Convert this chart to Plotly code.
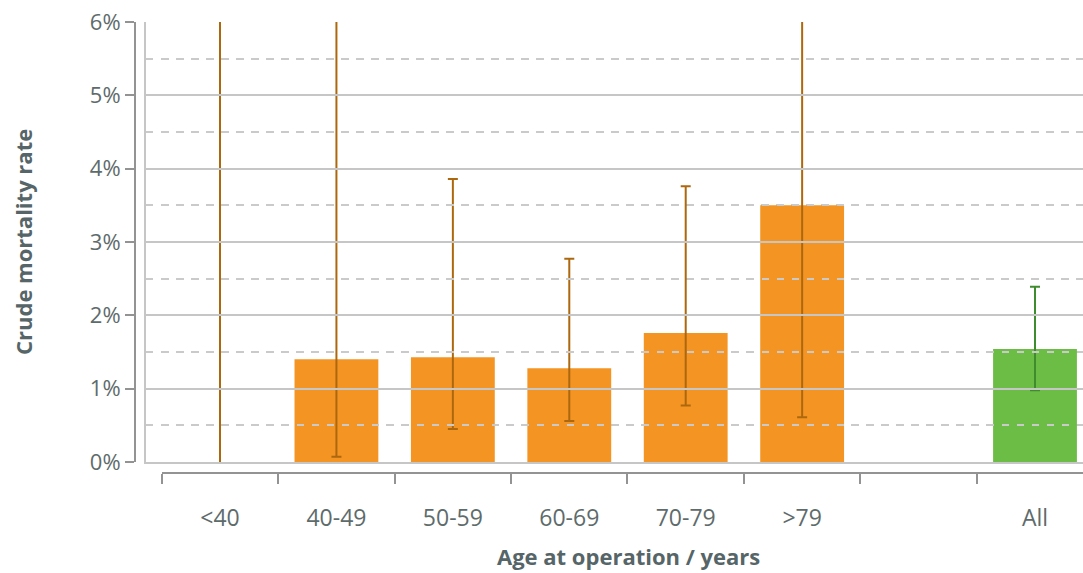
import plotly.graph_objects as go

# Crude mortality by age band at operation (%), with 95% CI bounds
categories = ["<40", "40-49", "50-59", "60-69", "70-79", ">79", "", "All"]
rates = [0.0, 1.40, 1.43, 1.28, 1.76, 3.50, None, 1.54]
ci_upper = [9.5, 8.0, 3.86, 2.77, 3.76, 7.5, None, 2.39]
ci_lower = [0.0, 0.07, 0.45, 0.56, 0.77, 0.61, None, 0.98]
boundaries = [-0.5, 0.5, 1.5, 2.5, 3.5, 4.5, 5.5, 6.5]
y_ticks = [0, 1, 2, 3, 4, 5, 6]

ORANGE = "#F39423"
ORANGE_ERR = "#AD680F"
GREEN = "#6CBD45"
GREEN_ERR = "#3F8C2F"
GRID = "#C6C6C6"
AXIS = "#939393"
TEXT = "#5E6B6B"
TITLE = "#566567"
FONT = "Open Sans"

W, H = 1083, 573
ML, MT, MB = 135, 22, 100
plot_w = W - ML
plot_h = H - MT - MB

step = (1035 - 220) / 7.0
x_lo = -(220 - 146) / step
x_hi = 7 + (1083 - 1035) / step
x_dom = (146 - ML) / plot_w
x2_dom = (220 - step / 2 - ML) / plot_w
y_dom = (473 - 462) / plot_h

pos = list(range(len(categories)))


def add_bars(fig, idx, color, err_color, cap):
    plus = [ci_upper[i] - rates[i] for i in idx]
    minus = [rates[i] - ci_lower[i] for i in idx]
    fig.add_trace(go.Bar(
        x=[pos[i] for i in idx], y=[rates[i] for i in idx],
        marker=dict(color=color, line=dict(width=0)), width=0.72,
        error_y=dict(type="data", symmetric=False, array=plus, arrayminus=minus,
                     color=err_color, thickness=2, width=cap),
        showlegend=False, hoverinfo="skip",
    ))


fig = go.Figure()
# youngest band: no deaths, interval runs from zero (no lower cap)
add_bars(fig, [0], ORANGE, ORANGE_ERR, 0)
add_bars(fig, [1, 2, 3, 4, 5], ORANGE, ORANGE_ERR, 5)
add_bars(fig, [7], GREEN, GREEN_ERR, 5)

# empty carriers so the offset category axis and value axis get drawn
fig.add_trace(go.Scatter(x=[None], y=[None], xaxis="x2", yaxis="y",
                         showlegend=False, hoverinfo="skip"))
fig.add_trace(go.Scatter(x=[None], y=[None], xaxis="x", yaxis="y2",
                         showlegend=False, hoverinfo="skip"))

fig.update_layout(
    width=W, height=H,
    margin=dict(l=ML, r=0, t=MT, b=MB, pad=0),
    paper_bgcolor="white", plot_bgcolor="rgba(0,0,0,0)",
    font=dict(family=FONT, color=TEXT),
    xaxis=dict(
        domain=[x_dom, 1], range=[x_lo, x_hi], anchor="y",
        showgrid=False, zeroline=False, showticklabels=False, ticks="",
        showline=True, linecolor=GRID, linewidth=2,
    ),
    yaxis=dict(
        domain=[y_dom, 1], range=[0, 6], anchor="x",
        tickvals=y_ticks, showticklabels=False, ticks="",
        showgrid=True, gridcolor=GRID, gridwidth=2,
        zeroline=False,
        showline=True, linecolor=GRID, linewidth=2,
        minor=dict(tickmode="linear", tick0=0, dtick=0.5, showgrid=True,
                   gridcolor="#CACACA", gridwidth=2, griddash="7px,8px",
                   ticks=""),
    ),
    xaxis2=dict(
        domain=[x2_dom, 1], range=[-0.5, x_hi], anchor="free", position=0,
        tickmode="array", tickvals=pos, ticktext=categories,
        ticks="outside", ticklen=24, tickcolor="rgba(0,0,0,0)",
        tickfont=dict(size=23, color=TEXT, family=FONT),
        showgrid=False, zeroline=False,
        showline=True, linecolor=AXIS, linewidth=2,
        minor=dict(tickmode="array", tickvals=boundaries, ticks="outside",
                   ticklen=10, tickwidth=2, tickcolor=AXIS, showgrid=False),
    ),
    yaxis2=dict(
        overlaying="y", anchor="free", position=0, side="left",
        range=[0, 6], tickvals=y_ticks,
        ticktext=[f"{v}%" for v in y_ticks],
        ticks="outside", ticklen=9, tickwidth=2, tickcolor=AXIS,
        tickfont=dict(size=22, color=TEXT, family=FONT),
        showgrid=False, zeroline=False,
        showline=True, linecolor=AXIS, linewidth=2,
    ),
    annotations=[
        dict(text="<b>Crude mortality rate</b>", xref="paper", yref="paper",
             x=(23 - ML) / plot_w, y=(473 - 242) / plot_h,
             xanchor="center", yanchor="middle", textangle=-90,
             showarrow=False, font=dict(size=22, color=TITLE, family=FONT)),
        dict(text="<b>Age at operation / years</b>", xref="paper", yref="paper",
             x=(628 - ML) / plot_w, y=-(556 - 473) / plot_h,
             xanchor="center", yanchor="middle",
             showarrow=False, font=dict(size=22, color=TITLE, family=FONT)),
    ],
)

fig.write_html("out.html")
